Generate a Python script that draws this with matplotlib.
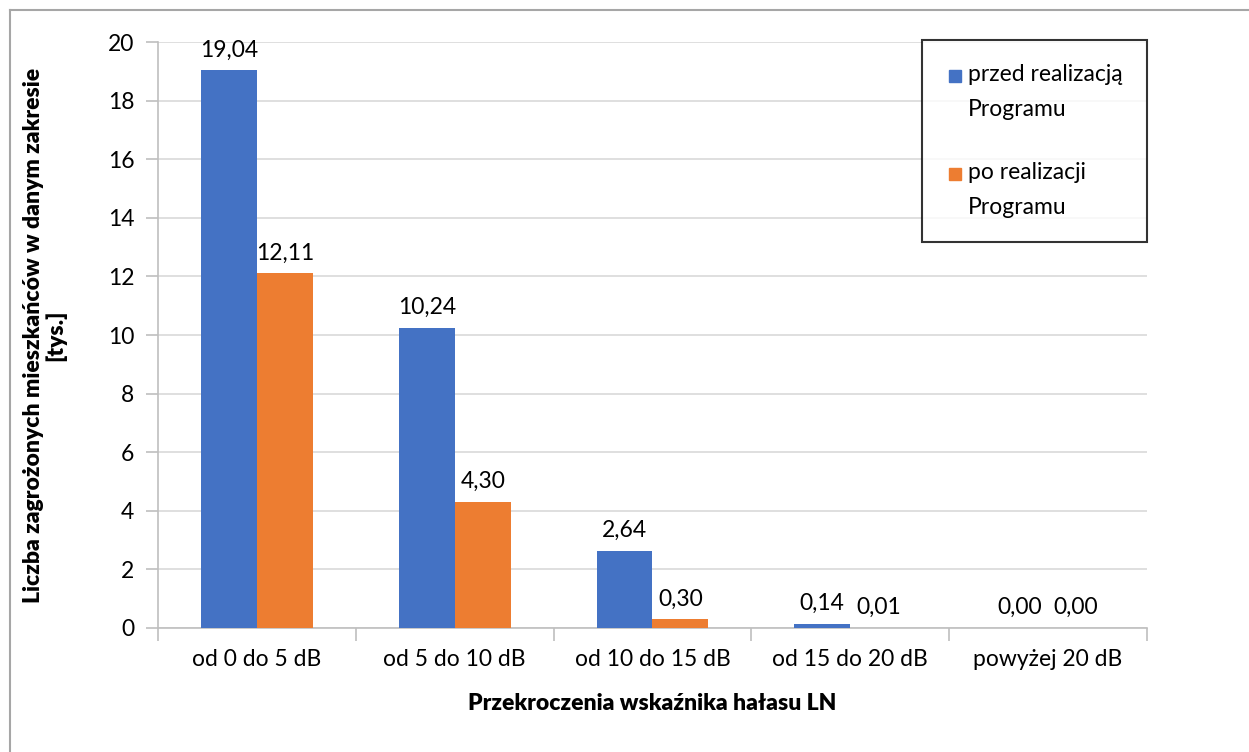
import numpy as np
import matplotlib.pyplot as plt
from matplotlib.lines import Line2D
from matplotlib.legend_handler import HandlerLine2D

plt.rcParams['font.family'] = ['Lato', 'DejaVu Sans']

categories = ['od 0 do 5 dB', 'od 5 do 10 dB', 'od 10 do 15 dB',
              'od 15 do 20 dB', 'powyżej 20 dB']
przed = [19.04, 10.24, 2.64, 0.14, 0.00]
po = [12.11, 4.30, 0.30, 0.01, 0.00]
series_names = ['przed realizacją\nProgramu', 'po realizacji\nProgramu']
colors = ['#4472C4', '#ED7D31']

FS = 16.5


class TopLineHandler(HandlerLine2D):
    """Puts the legend square next to the first line of a two-line label."""
    def create_artists(self, legend, orig_handle, xdescent, ydescent,
                       width, height, fontsize, trans):
        arts = super().create_artists(legend, orig_handle, xdescent,
                                      ydescent, width, height, fontsize,
                                      trans)
        for a in arts:
            a.set_ydata(np.asarray(a.get_ydata()) + 0.7 * fontsize)
        return arts


fig = plt.figure(figsize=(12.49, 7.52), dpi=100)
ax = fig.add_axes([0.1265, 0.1649, 0.7918, 0.7792])

x = np.arange(len(categories))
w = 0.283
b1 = ax.bar(x - w / 2, przed, w, color=colors[0], zorder=3)
b2 = ax.bar(x + w / 2, po, w, color=colors[1], zorder=3)

def fmt(v):
    return ('%.2f' % v).replace('.', ',')

for bars, vals in ((b1, przed), (b2, po)):
    for r, v in zip(bars, vals):
        ax.annotate(fmt(v), (r.get_x() + r.get_width() / 2, v),
                    xytext=(0, 7), textcoords='offset points',
                    ha='center', va='bottom', fontsize=FS, color='#000000')

ax.set_xlim(-0.5, len(categories) - 0.5)
ax.set_ylim(0, 20)
ax.set_yticks(np.arange(0, 21, 2))
ax.set_xticks(x)
ax.set_xticklabels(categories)
ax.set_xticks(np.arange(-0.5, len(categories)), minor=True)
ax.tick_params(axis='x', which='major', length=0, pad=15, labelsize=FS)
ax.tick_params(axis='x', which='minor', length=9, color='#BFBFBF', width=1.2)
ax.tick_params(axis='y', length=9, color='#BFBFBF', width=1.2, pad=8,
               labelsize=FS)

ax.grid(axis='y', color='#D9D9D9', linewidth=1.2, zorder=0)
for s in ('top', 'right'):
    ax.spines[s].set_visible(False)
for s in ('left', 'bottom'):
    ax.spines[s].set_color('#BFBFBF')
    ax.spines[s].set_linewidth(1.2)

ax.set_xlabel('Przekroczenia wskaźnika hałasu LN', fontsize=FS,
              fontweight='heavy', labelpad=17)
ax.set_ylabel('Liczba zagrożonych mieszkańców w danym zakresie\n[tys.]',
              fontsize=FS, fontweight='heavy', labelpad=30,
              linespacing=1.05)

handles = [Line2D([], [], marker='s', linestyle='none', markersize=9,
                  color=c) for c in colors]
leg = fig.legend(handles, series_names, loc='upper left',
                 bbox_to_anchor=(922 / 1249, 1 - 40 / 752),
                 fontsize=FS, frameon=True, fancybox=False,
                 handletextpad=0.15, handlelength=0.8, labelspacing=1.85,
                 borderpad=1.05, borderaxespad=0,
                 handler_map={Line2D: TopLineHandler()})
for t in leg.get_texts():
    t.set_linespacing(1.8)
leg.get_frame().set_edgecolor('#000000')
leg.get_frame().set_linewidth(1.5)

# outer chart frame
fig.add_artist(Line2D([10 / 1249, 1], [1 - 10 / 752] * 2,
                      color='#A6A6A6', linewidth=1.5))
fig.add_artist(Line2D([10 / 1249] * 2, [0, 1 - 10 / 752],
                      color='#A6A6A6', linewidth=1.5))

fig.savefig('out.png', dpi=100)
